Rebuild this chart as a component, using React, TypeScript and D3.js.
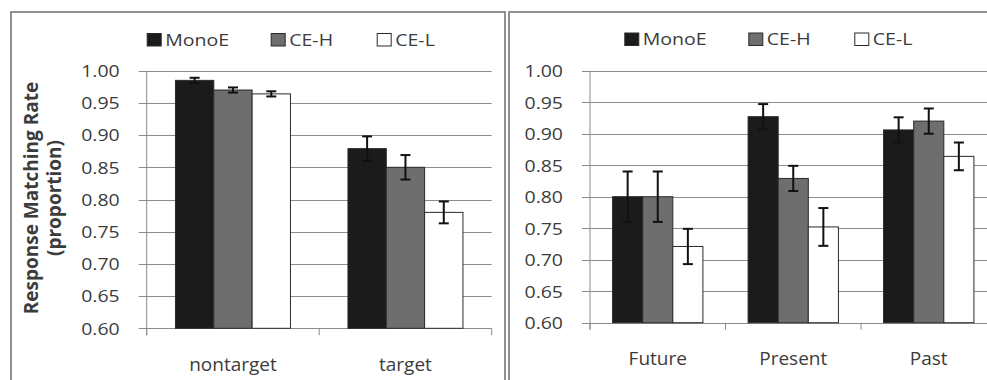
import React, { useEffect, useRef } from "react";
import * as d3 from "d3";

// series + categories
const seriesNames = ["MonoE", "CE-H", "CE-L"];
const seriesColors = ["#1b1b1b", "#6e6e6e", "#ffffff"];

const leftCategories = ["nontarget", "target"];
const leftMonoE = [0.985, 0.879];
const leftCEH = [0.97, 0.85];
const leftCEL = [0.964, 0.78];
const leftMonoEErr = [0.004, 0.019];
const leftCEHErr = [0.004, 0.019];
const leftCELErr = [0.004, 0.017];

const rightCategories = ["Future", "Present", "Past"];
const rightMonoE = [0.8, 0.927, 0.906];
const rightCEH = [0.8, 0.829, 0.92];
const rightCEL = [0.721, 0.752, 0.864];
const rightMonoEErr = [0.04, 0.02, 0.02];
const rightCEHErr = [0.04, 0.02, 0.02];
const rightCELErr = [0.028, 0.03, 0.022];

const yTicks = [0.6, 0.65, 0.7, 0.75, 0.8, 0.85, 0.9, 0.95, 1.0];
const yTickLabels = ["0.60", "0.65", "0.70", "0.75", "0.80", "0.85", "0.90", "0.95", "1.00"];

const yTitleLines = ["Response Matching Rate", "(proportion)"];

const FONT = "'Open Sans', 'DejaVu Sans', sans-serif";
const TEXT = "#3c3c3c";
const GRID = "#8c8c8c";

const App = () => {
  const chartRef = useRef(null);

  useEffect(() => {
    const svg = d3.select(chartRef.current);
    svg.selectAll("*").remove();

    const panels = [
      {
        categories: leftCategories,
        means: [leftMonoE, leftCEH, leftCEL],
        errs: [leftMonoEErr, leftCEHErr, leftCELErr],
        box: { x: 11, y: 12, w: 494 },
        x0: 146.7,
        x1: 491.7,
        yTop: 70.7,
        yBottom: 328.3,
        legendX: 146.7,
        legendY: 33,
      },
      {
        categories: rightCategories,
        means: [rightMonoE, rightCEH, rightCEL],
        errs: [rightMonoEErr, rightCEHErr, rightCELErr],
        box: { x: 509, y: 12, w: 500 },
        x0: 590,
        x1: 996.5,
        yTop: 70.7,
        yBottom: 322.7,
        legendX: 624.3,
        legendY: 32.5,
      },
    ];

    svg
      .append("rect")
      .attr("width", 987)
      .attr("height", 380)
      .attr("fill", "#fff");

    panels.forEach((p, pi) => {
      const g = svg.append("g");

      // panel frame
      g.append("rect")
        .attr("x", p.box.x)
        .attr("y", p.box.y)
        .attr("width", p.box.w)
        .attr("height", 420)
        .attr("fill", "none")
        .attr("stroke", "#858585")
        .attr("stroke-width", 1.8);

      const y = d3.scaleLinear().domain([0.6, 1.0]).range([p.yBottom, p.yTop]);
      const x = d3
        .scaleBand()
        .domain(p.categories)
        .range([p.x0, p.x1])
        .paddingInner(1 / 3)
        .paddingOuter(1 / 6);
      const xs = d3.scaleBand().domain(seriesNames).range([0, x.bandwidth()]);

      // gridlines + left tick marks
      g.selectAll(".grid")
        .data(yTicks)
        .enter()
        .append("line")
        .attr("x1", p.x0 - 8)
        .attr("x2", p.x1)
        .attr("y1", (d) => Math.round(y(d)) + 0.5)
        .attr("y2", (d) => Math.round(y(d)) + 0.5)
        .attr("stroke", GRID)
        .attr("stroke-width", 1);

      // y axis line
      g.append("line")
        .attr("x1", p.x0)
        .attr("x2", p.x0)
        .attr("y1", p.yTop)
        .attr("y2", p.yBottom + 7)
        .attr("stroke", GRID);

      // category boundary ticks
      const step = (p.x1 - p.x0) / p.categories.length;
      g.selectAll(".xtick")
        .data(d3.range(p.categories.length + 1))
        .enter()
        .append("line")
        .attr("x1", (i) => p.x0 + i * step)
        .attr("x2", (i) => p.x0 + i * step)
        .attr("y1", p.yBottom)
        .attr("y2", p.yBottom + 7)
        .attr("stroke", GRID);

      // tick labels
      g.selectAll(".ylab")
        .data(yTicks)
        .enter()
        .append("text")
        .attr("transform", (d) => `translate(${p.x0 - 27},${y(d) + 6.3}) scale(1.18,1)`)
        .attr("text-anchor", "end")
        .attr("font-family", FONT)
        .attr("font-size", 16.5)
        .attr("fill", TEXT)
        .text((d, i) => yTickLabels[i]);

      // category labels
      g.selectAll(".xlab")
        .data(p.categories)
        .enter()
        .append("text")
        .attr("x", (d) => x(d) + x.bandwidth() / 2)
        .attr("y", p.yBottom + 42.5)
        .attr("text-anchor", "middle")
        .attr("font-family", FONT)
        .attr("font-size", 19)
        .attr("fill", TEXT)
        .text((d) => d);

      // bars
      seriesNames.forEach((s, si) => {
        g.selectAll(".bar" + si)
          .data(p.categories)
          .enter()
          .append("rect")
          .attr("x", (d) => x(d) + xs(s))
          .attr("y", (d, i) => y(p.means[si][i]))
          .attr("width", xs.bandwidth())
          .attr("height", (d, i) => p.yBottom - y(p.means[si][i]))
          .attr("fill", seriesColors[si])
          .attr("stroke", "#2a2a2a")
          .attr("stroke-width", 1);
      });

      // error bars
      seriesNames.forEach((s, si) => {
        p.categories.forEach((c, i) => {
          const cx = x(c) + xs(s) + xs.bandwidth() / 2;
          const m = p.means[si][i];
          const e = p.errs[si][i];
          const eg = g.append("g").attr("stroke", "#111").attr("stroke-width", 2);
          eg.append("line").attr("x1", cx).attr("x2", cx).attr("y1", y(m + e)).attr("y2", y(m - e));
          eg.append("line").attr("x1", cx - 5).attr("x2", cx + 5).attr("y1", y(m + e)).attr("y2", y(m + e));
          eg.append("line").attr("x1", cx - 5).attr("x2", cx + 5).attr("y1", y(m - e)).attr("y2", y(m - e));
        });
      });

      // legend
      const offsets = [0, 124, 230];
      seriesNames.forEach((s, si) => {
        const lx = p.legendX + offsets[si];
        g.append("rect")
          .attr("x", lx + 0.5)
          .attr("y", p.legendY + 0.5)
          .attr("width", 14)
          .attr("height", 12.5)
          .attr("fill", seriesColors[si])
          .attr("stroke", "#2a2a2a")
          .attr("stroke-width", 1);
        g.append("text")
          .attr("transform", `translate(${lx + 18.5},${p.legendY + 12.8}) scale(1.15,1)`)
          .attr("font-family", FONT)
          .attr("font-size", 17)
          .attr("fill", TEXT)
          .text(s);
      });

      // y title (left panel only)
      if (pi === 0) {
        const cy = (p.yTop + p.yBottom) / 2 - 1.5;
        yTitleLines.forEach((line, li) => {
          g.append("text")
            .attr("transform", `translate(${38 + li * 22.5},${cy}) rotate(-90)`)
            .attr("text-anchor", "middle")
            .attr("font-family", FONT)
            .attr("font-weight", "bold")
            .attr("font-size", 19)
            .attr("fill", TEXT)
            .text(line);
        });
      }
    });
  }, []);

  return (
    <svg
      ref={chartRef}
      width={987}
      height={380}
      style={{ position: "absolute", left: 0, top: 0, display: "block" }}
    ></svg>
  );
};

export default App;
